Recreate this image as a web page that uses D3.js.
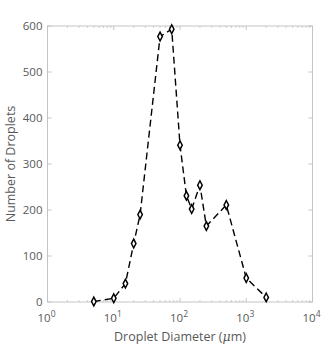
<!DOCTYPE html>
<html><head><meta charset="utf-8">
<script src="https://cdn.jsdelivr.net/npm/d3@7"></script>
<style>body{margin:0;background:#fff}text{font-family:"Open Sans","Noto Sans",sans-serif}</style>
</head><body><svg id="c" width="330" height="350"></svg>
<script>
const diameters = [5,10,15,20,25,50,75,100,125,150,200,250,500,1000,2000];
const counts = [1,8,40,127,190,577,593,341,231,202,254,165,211,52,10];
const yTicks = [0,100,200,300,400,500,600];
const xDecades = [0,1,2,3,4];

const svg = d3.select("#c");
const L=47.5,R=312.5,T=26,B=302;
const x = d3.scaleLog().domain([1,1e4]).range([L,R]);
const y = d3.scaleLinear().domain([0,600]).range([B,T]);
const axisCol="#c4c4c4", txtCol="#595959";

const minor=[];
for(let d=0;d<4;d++)for(let k=2;k<=9;k++)minor.push(k*Math.pow(10,d));
const g=svg.append("g");
minor.forEach(v=>{
  g.append("line").attr("x1",x(v)).attr("x2",x(v)).attr("y1",B).attr("y2",B-2).attr("stroke",axisCol).attr("stroke-width",0.8);
  g.append("line").attr("x1",x(v)).attr("x2",x(v)).attr("y1",T).attr("y2",T+2).attr("stroke",axisCol).attr("stroke-width",0.8);
});
xDecades.forEach(d=>{
  const v=Math.pow(10,d);
  g.append("line").attr("x1",x(v)).attr("x2",x(v)).attr("y1",B).attr("y2",B-4).attr("stroke",axisCol);
  g.append("line").attr("x1",x(v)).attr("x2",x(v)).attr("y1",T).attr("y2",T+4).attr("stroke",axisCol);
  const t=svg.append("text").attr("x",x(v)-1).attr("y",322).attr("text-anchor","middle").attr("fill",txtCol).attr("font-size",11.5);
  t.append("tspan").text("10");
  t.append("tspan").attr("dy",-5).attr("font-size",8.5).text(d);
});
yTicks.forEach(v=>{
  g.append("line").attr("x1",L).attr("x2",L+4).attr("y1",y(v)).attr("y2",y(v)).attr("stroke",axisCol);
  g.append("line").attr("x1",R).attr("x2",R-4).attr("y1",y(v)).attr("y2",y(v)).attr("stroke",axisCol);
  svg.append("text").attr("x",L-5).attr("y",y(v)+4).attr("text-anchor","end").attr("fill",txtCol).attr("font-size",11.5).text(v);
});
svg.append("rect").attr("x",L).attr("y",T).attr("width",R-L).attr("height",B-T).attr("fill","none").attr("stroke",axisCol).attr("stroke-width",1);

const pts = diameters.map((d,i)=>[x(d),y(counts[i])]);
svg.append("path").attr("d",d3.line()(pts)).attr("fill","none").attr("stroke","#000").attr("stroke-width",1.4).attr("stroke-dasharray","7,4");
const sym=d3.symbol().type(d3.symbolDiamond).size(22);
svg.selectAll(".m").data(pts).enter().append("path").attr("d",sym)
  .attr("transform",p=>`translate(${p[0]},${p[1]}) scale(0.9,1)`)
  .attr("fill","#fff").attr("stroke","#000").attr("stroke-width",1.6);

const xl=svg.append("text").attr("x",(L+R)/2).attr("y",341).attr("text-anchor","middle").attr("fill",txtCol).attr("font-size",12.5);
xl.append("tspan").text("Droplet Diameter (");
xl.append("tspan").attr("font-style","italic").attr("font-family","DejaVu Serif, serif").text("μ");
xl.append("tspan").text("m)");
svg.append("text").attr("transform",`translate(15,${(T+B)/2}) rotate(-90)`).attr("text-anchor","middle").attr("fill",txtCol).attr("font-size",12.5).text("Number of Droplets");
</script></body></html>
